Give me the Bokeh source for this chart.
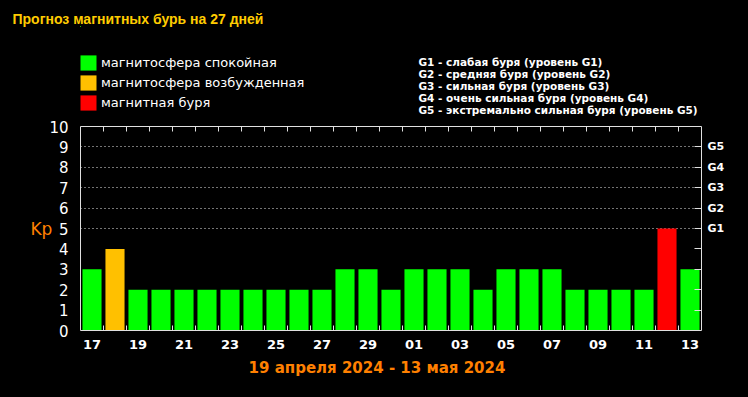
from bokeh.plotting import figure
from bokeh.models import (Range1d, LinearAxis, FixedTicker, Label, Grid, Legend, LegendItem,
                          Title, ColumnDataSource)
from bokeh.layouts import column
from bokeh.embed import file_html
from bokeh.resources import INLINE

# ---------------- data ----------------
title_text = "Прогноз магнитных бурь на 27 дней"
days = ["17", "18", "19", "20", "21", "22", "23", "24", "25", "26", "27", "28", "29", "30",
        "01", "02", "03", "04", "05", "06", "07", "08", "09", "10", "11", "12", "13"]
kp = [3, 4, 2, 2, 2, 2, 2, 2, 2, 2, 2, 3, 3, 2, 3, 3, 3, 2, 3, 3, 3, 2, 2, 2, 2, 5, 3]
y_ticks = [0, 1, 2, 3, 4, 5, 6, 7, 8, 9, 10]
g_levels = [5, 6, 7, 8, 9]
g_labels = ["G1", "G2", "G3", "G4", "G5"]
g_descriptions = [
    "G1 - слабая буря (уровень G1)",
    "G2 - средняя буря (уровень G2)",
    "G3 - сильная буря (уровень G3)",
    "G4 - очень сильная буря (уровень G4)",
    "G5 - экстремально сильная буря (уровень G5)",
]
status_names = ["магнитосфера спокойная", "магнитосфера возбужденная", "магнитная буря"]
status_colors = ["#00ff00", "#ffc000", "#ff0000"]
date_range = "19 апреля 2024 - 13 мая 2024"
y_axis_name = "Kp"


def status_of(v):
    if v >= 5:
        return 2
    if v >= 4:
        return 1
    return 0


n = len(days)
sources = []
for s in range(3):
    xs = [i for i in range(n) if status_of(kp[i]) == s]
    sources.append(ColumnDataSource(dict(x=xs, top=[kp[i] for i in xs])))

W = 748
FR_L, FR_R = 80, 701          # chart frame, page pixels
TOP_H, TOP_T = 118, 26        # header figure height, its frame top
MAIN_TOP, MAIN_BOTTOM = 8, 26
FRAME_H = 204
MAIN_H = MAIN_TOP + FRAME_H + MAIN_BOTTOM
BOT_H = 38
AX = "#e0e0e0"


def side_fig(h, y0, top_border):
    # x/y ranges chosen so that data units equal page pixels inside the frame
    f = figure(width=W, height=h, output_backend="svg", toolbar_location=None,
               x_range=Range1d(FR_L, FR_R), y_range=Range1d(y0 + h, y0 + top_border),
               x_axis_type=None, y_axis_type=None,
               min_border_left=FR_L, min_border_right=W - FR_R,
               min_border_top=top_border, min_border_bottom=0,
               background_fill_color="black", border_fill_color="black",
               outline_line_color=None)
    f.xgrid.visible = False
    f.ygrid.visible = False
    return f


# ---------------- header: title + legends ----------------
p_top = side_fig(TOP_H, 0, TOP_T)
p_top.add_layout(Title(text=title_text, align="left", offset=12 - FR_L, standoff=0,
                       vertical_align="bottom", text_color="#ffcc00",
                       text_font="Liberation Sans", text_font_style="bold",
                       text_font_size="14px"), "above")
for i, d in enumerate(g_descriptions):
    p_top.add_layout(Label(x=418, y=61.5 + 12 * i, text=d, text_align="left",
                           text_baseline="middle", text_color="white",
                           text_font="DejaVu Sans", text_font_style="bold",
                           text_font_size="10.5px"))
items = []
for s in range(3):
    # same data as the chart bars; in this header's coordinates they fall outside the frame,
    # so only their legend swatches show
    r = p_top.vbar(x="x", top="top", bottom=0, width=0.83, source=sources[s],
                   fill_color=status_colors[s], line_color=None)
    items.append(LegendItem(label=status_names[s], renderers=[r]))
lg = Legend(items=items, location=(-2, 6), glyph_width=20, glyph_height=19, label_height=19,
            spacing=1, padding=0, margin=0, label_standoff=3,
            background_fill_alpha=0, border_line_alpha=0,
            label_text_color="white", label_text_font="DejaVu Sans",
            label_text_font_size="13px")
p_top.add_layout(lg, "center")

# ---------------- main chart ----------------
p = figure(width=W, height=MAIN_H, output_backend="svg", toolbar_location=None,
           x_range=Range1d(-0.5, n - 0.5), y_range=Range1d(0, 10),
           x_axis_type=None, y_axis_type=None,
           min_border_left=FR_L, min_border_right=W - FR_R,
           min_border_top=MAIN_TOP, min_border_bottom=MAIN_BOTTOM,
           background_fill_color="black", border_fill_color="black",
           outline_line_color=None)

p.add_layout(Grid(dimension=1, ticker=FixedTicker(ticks=g_levels),
                  grid_line_color="white", grid_line_dash="1 3", grid_line_alpha=0.9))

for s in range(3):
    p.vbar(x="x", top="top", bottom=0, width=0.83, source=sources[s],
           fill_color=status_colors[s], line_color=None)

bounds = [i + 0.5 for i in range(n - 1)]
even_idx = list(range(0, n, 2))

left = LinearAxis(ticker=FixedTicker(ticks=y_ticks),
                  axis_line_color=AX, major_tick_line_color=None, minor_tick_line_color=None,
                  major_label_text_color="white", major_label_text_font="DejaVu Sans",
                  major_label_text_font_size="15px", major_label_standoff=6,
                  axis_label=y_axis_name, axis_label_text_color="#ff8000",
                  axis_label_text_font="DejaVu Sans", axis_label_text_font_style="normal",
                  axis_label_text_font_size="17px", axis_label_standoff=-6)
if "axis_label_orientation" in left.properties():
    left.axis_label_orientation = "horizontal"
p.add_layout(left, "left")

overrides_r = {i: "" for i in range(1, 5)}
for lvl, lab in zip(g_levels, g_labels):
    overrides_r[lvl] = lab
right = LinearAxis(ticker=FixedTicker(ticks=list(range(1, 10))),
                   major_label_overrides=overrides_r,
                   axis_line_color=AX, major_tick_line_color=AX,
                   major_tick_in=7, major_tick_out=0, minor_tick_line_color=None,
                   major_label_text_color="white", major_label_text_font="DejaVu Sans",
                   major_label_text_font_style="bold", major_label_text_font_size="11px",
                   major_label_standoff=6)
p.add_layout(right, "right")

top = LinearAxis(ticker=FixedTicker(ticks=[], minor_ticks=bounds),
                 axis_line_color=AX, major_tick_line_color=None,
                 minor_tick_line_color=AX, minor_tick_in=5, minor_tick_out=0,
                 major_label_text_font_size="0px", major_label_standoff=0)
p.add_layout(top, "above")

bottom = LinearAxis(ticker=FixedTicker(ticks=even_idx, minor_ticks=bounds),
                    major_label_overrides={i: days[i] for i in even_idx},
                    axis_line_color=AX, major_tick_line_color=None,
                    minor_tick_line_color=AX, minor_tick_in=5, minor_tick_out=0,
                    major_label_text_color="white", major_label_text_font="DejaVu Sans",
                    major_label_text_font_style="bold", major_label_text_font_size="13px",
                    major_label_standoff=3)
p.add_layout(bottom, "below")

# ---------------- footer: date range ----------------
y_bot = TOP_H + MAIN_H
p_bot = side_fig(BOT_H, y_bot, 0)
p_bot.add_layout(Label(x=376.5, y=367.5, text=date_range, text_align="center",
                       text_baseline="middle", text_color="#ff8000",
                       text_font="DejaVu Sans", text_font_style="bold",
                       text_font_size="15px"))

layout = column(p_top, p, p_bot, spacing=0)
html = file_html(layout, INLINE)
html = html.replace("</head>", "<style>html,body{background:#000000;}</style></head>", 1)
open("out.html", "w").write(html)
